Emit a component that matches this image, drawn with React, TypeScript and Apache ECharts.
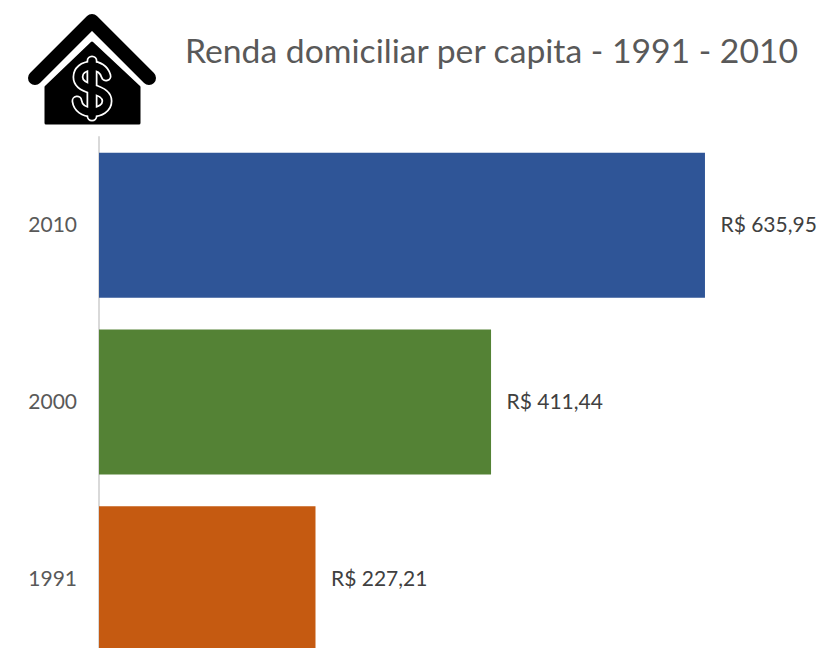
import React, { useEffect, useRef } from "react";
import * as echarts from "echarts";

const years = ["1991", "2000", "2010"];
const income = [227.21, 411.44, 635.95];
const barColors = ["#C55A11", "#548235", "#2F5597"];
const titleText = "Renda domiciliar per capita - 1991 - 2010";
const FONT = "Lato, 'Open Sans', sans-serif";

const dollarS =
  "M106,76 C104,69 98,66 92,66 C83,66 78,71 78,77 C78,84 84,87 92,89 C100,91 107,94 107,101 C107,108 100,112 92,112 C84,112 78,108 77,101";
const dollarBar = "M92,61 L92,116";
echarts.graphic.registerShape("dollarS", echarts.graphic.extendPath(dollarS, {}));
echarts.graphic.registerShape("dollarBar", echarts.graphic.extendPath(dollarBar, {}));

const formatBRL = (v: number) => `R$ ${v.toFixed(2).replace(".", ",")}`;

export default function App() {
  const ref = useRef<HTMLDivElement>(null);
  useEffect(() => {
    const chart = echarts.init(ref.current!, undefined, { renderer: "svg" });
    chart.setOption({
      animation: false,
      backgroundColor: "#ffffff",
      grid: { left: 99, top: 137, width: 667, height: 530 },
      xAxis: { type: "value", min: 0, max: 700, show: false },
      yAxis: {
        type: "category",
        data: years,
        axisLine: { show: true, lineStyle: { color: "#d9d9d9", width: 2 } },
        axisTick: { show: false },
        axisLabel: {
          color: "#595959",
          fontFamily: FONT,
          fontSize: 21,
          margin: 22,
          verticalAlign: "bottom",
          lineHeight: 3,
        },
        splitLine: { show: false },
      },
      series: [
        {
          type: "bar",
          barWidth: 145,
          data: income.map((value, i) => ({ value, itemStyle: { color: barColors[i] } })),
          label: {
            show: true,
            position: "right",
            distance: 16,
            offset: [-0.5, -1.5],
            color: "#404040",
            fontFamily: FONT,
            fontSize: 21,
            formatter: (p: any) => formatBRL(p.value),
          },
        },
      ],
      graphic: [
        {
          type: "text",
          left: 185,
          top: 33,
          style: { text: titleText, fill: "#595959", font: `33.7px ${FONT}` },
        },
        {
          type: "polyline",
          shape: { points: [[35, 78], [92, 21], [149, 78]] },
          style: { stroke: "#000", lineWidth: 14, lineCap: "round", lineJoin: "round", fill: "none" },
        },
        {
          type: "polygon",
          shape: { points: [[46, 87], [92, 43], [139, 87], [139, 123], [46, 123]] },
          style: { fill: "#000", stroke: "#000", lineWidth: 3, lineJoin: "round" },
        },
        { type: "dollarBar", style: { fill: "none", stroke: "#fff", lineWidth: 11, lineCap: "round" } },
        { type: "dollarS", style: { fill: "none", stroke: "#fff", lineWidth: 11, lineCap: "round" } },
        { type: "dollarBar", style: { fill: "none", stroke: "#000", lineWidth: 7.5, lineCap: "round" } },
        { type: "dollarS", style: { fill: "none", stroke: "#000", lineWidth: 7.5, lineCap: "round" } },
      ],
    });
    return () => chart.dispose();
  }, []);
  return (
    <div style={{ position: "fixed", left: 0, top: 0, width: 820, height: 648, overflow: "hidden" }}>
      <div ref={ref} style={{ width: 820, height: 700 }} />
    </div>
  );
}
